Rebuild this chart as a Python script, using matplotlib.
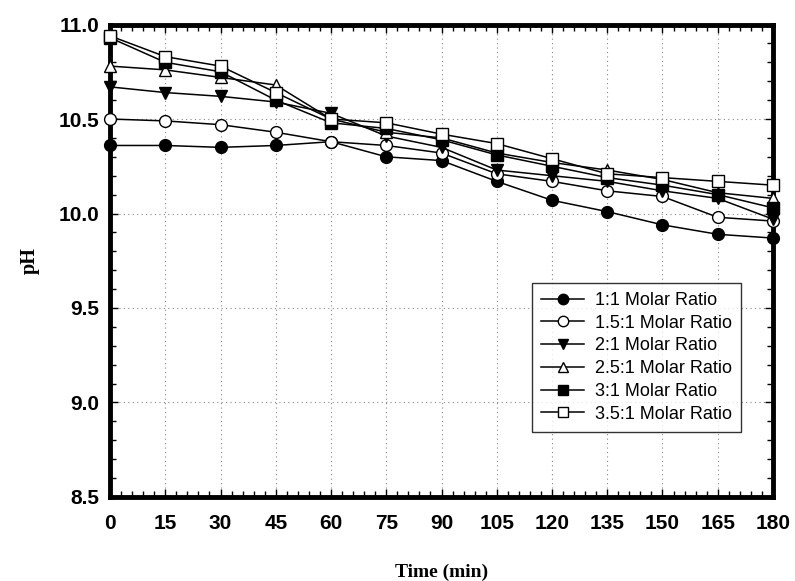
import matplotlib
matplotlib.use("Agg")
import matplotlib.pyplot as plt
from matplotlib.ticker import MultipleLocator

time_min = [0, 15, 30, 45, 60, 75, 90, 105, 120, 135, 150, 165, 180]
ph_1_1 = [10.36, 10.36, 10.35, 10.36, 10.38, 10.30, 10.28, 10.17, 10.07, 10.01, 9.94, 9.89, 9.87]
ph_1_5_1 = [10.50, 10.49, 10.47, 10.43, 10.38, 10.36, 10.32, 10.21, 10.17, 10.12, 10.09, 9.98, 9.96]
ph_2_1 = [10.67, 10.64, 10.62, 10.59, 10.53, 10.41, 10.35, 10.23, 10.20, 10.17, 10.12, 10.08, 9.97]
ph_2_5_1 = [10.78, 10.76, 10.72, 10.68, 10.50, 10.43, 10.40, 10.32, 10.27, 10.23, 10.18, 10.11, 10.08]
ph_3_1 = [10.93, 10.80, 10.75, 10.60, 10.48, 10.45, 10.39, 10.31, 10.25, 10.19, 10.15, 10.10, 10.03]
ph_3_5_1 = [10.94, 10.83, 10.78, 10.64, 10.50, 10.48, 10.42, 10.37, 10.29, 10.21, 10.19, 10.17, 10.15]

labels = ["1:1 Molar Ratio", "1.5:1 Molar Ratio", "2:1 Molar Ratio",
          "2.5:1 Molar Ratio", "3:1 Molar Ratio", "3.5:1 Molar Ratio"]
x_ticks = [0, 15, 30, 45, 60, 75, 90, 105, 120, 135, 150, 165, 180]
y_ticks = [8.5, 9.0, 9.5, 10.0, 10.5, 11.0]

series = [ph_1_1, ph_1_5_1, ph_2_1, ph_2_5_1, ph_3_1, ph_3_5_1]
markers = ["o", "o", "v", "^", "s", "s"]
faces = ["black", "white", "black", "white", "black", "white"]

fig = plt.figure(figsize=(7.95, 5.81), dpi=100)
ax = fig.add_axes([0.1384, 0.1446, 0.8339, 0.8132])

for ys, m, fc, lab in zip(series, markers, faces, labels):
    ax.plot(time_min, ys, color="black", linewidth=1.1, marker=m, markersize=8.5,
            markerfacecolor=fc, markeredgecolor="black", markeredgewidth=1.0,
            label=lab, clip_on=False, zorder=3)

ax.set_xlim(0, 180)
ax.set_ylim(8.5, 11.0)
ax.set_xticks(x_ticks)
ax.set_yticks(y_ticks)
ax.set_yticklabels([f"{v:.1f}" for v in y_ticks])
ax.xaxis.set_minor_locator(MultipleLocator(3))
ax.yaxis.set_minor_locator(MultipleLocator(0.1))

for sp in ax.spines.values():
    sp.set_linewidth(3.5)

ax.tick_params(which="both", direction="in", top=True, right=True)
ax.tick_params(which="major", length=6, width=1)
ax.tick_params(which="minor", length=4, width=1)
ax.tick_params(axis="x", which="major", pad=12)
ax.tick_params(axis="y", which="major", pad=8)

for lbl in ax.get_xticklabels() + ax.get_yticklabels():
    lbl.set_fontfamily("Liberation Sans")
    lbl.set_fontweight("bold")
    lbl.set_fontsize(15)

ax.grid(True, which="major", linestyle=(0, (1, 3)), color="#888888", linewidth=0.8)
ax.set_axisbelow(True)

ax.set_xlabel("Time (min)", fontfamily="Liberation Serif", fontweight="bold",
              fontsize=14, labelpad=22)
ax.set_ylabel("pH", fontfamily="Liberation Serif", fontweight="bold",
              fontsize=14.5, labelpad=13)

leg = ax.legend(loc="lower right", bbox_to_anchor=(0.952, 0.138),
                prop={"family": "Liberation Sans", "size": 13},
                frameon=True, fancybox=False, edgecolor="black",
                handlelength=2.4, borderpad=0.5, labelspacing=0.32,
                handletextpad=0.6, borderaxespad=0)
leg.get_frame().set_linewidth(1.0)
for h in leg.legend_handles:
    h.set_markersize(7.5)

fig.savefig("out.png", dpi=100)
